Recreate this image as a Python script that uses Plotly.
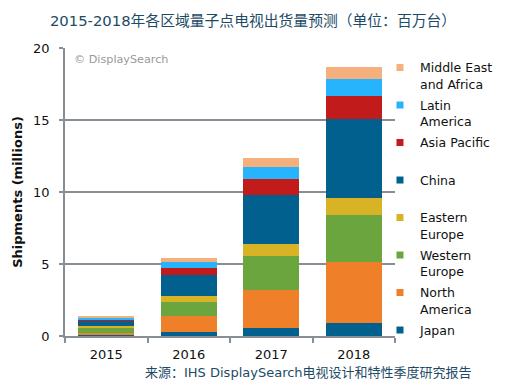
import plotly.graph_objects as go

years = ["2015", "2016", "2017", "2018"]
regions = ["Japan", "North America", "Western Europe", "Eastern Europe",
           "China", "Asia Pacific", "Latin America", "Middle East and Africa"]
legend_labels = ["Japan<br> ", "North<br>America", "Western<br>Europe", "Eastern<br>Europe",
                 "China<br> ", "Asia Pacific<br> ", "Latin<br>America", "Middle East<br>and Africa"]

japan = [0.09, 0.28, 0.56, 0.90]
north_america = [0.14, 1.13, 2.66, 4.24]
western_europe = [0.37, 0.95, 2.34, 3.26]
eastern_europe = [0.09, 0.42, 0.83, 1.18]
china = [0.37, 1.46, 3.40, 5.47]
asia_pacific = [0.12, 0.49, 1.11, 1.62]
latin_america = [0.12, 0.42, 0.84, 1.18]
mea = [0.09, 0.28, 0.64, 0.83]

series = [japan, north_america, western_europe, eastern_europe,
          china, asia_pacific, latin_america, mea]
colors = ["#02608f", "#f07f29", "#6aa63d", "#d8b325",
          "#02608f", "#c21b1b", "#28b3fd", "#f6b07d"]

y_ticks = [0, 5, 10, 15, 20]

FONT = "DejaVu Sans, Verdana, Noto Sans CJK SC"

fig = go.Figure()
for name, vals, col in zip(regions, series, colors):
    fig.add_trace(go.Bar(x=years, y=vals, name=name, marker_color=col,
                         marker_line_width=0, showlegend=False))
# legend entries, top to bottom (reverse of stacking order)
for name, lab, col in list(zip(regions, legend_labels, colors))[::-1]:
    fig.add_trace(go.Scatter(x=[None], y=[None], mode="markers", name=lab,
                             legendgroup=name,
                             marker=dict(symbol="square", size=7, color=col)))

fig.update_layout(
    width=497, height=378,
    barmode="stack", bargap=0.32,
    plot_bgcolor="white", paper_bgcolor="white",
    margin=dict(l=57, r=110, t=40, b=50, autoexpand=False),
    font=dict(family=FONT, size=13, color="#111111"),
    showlegend=True,
    legend=dict(x=0.9545, xanchor="left", y=0.983, yanchor="top",
                traceorder="grouped", tracegroupgap=2, maxheight=340,
                font=dict(size=12.5, color="#111111"), itemwidth=30,
                valign="top", bgcolor="rgba(0,0,0,0)"),
    xaxis=dict(showline=True, linecolor="#888e94", linewidth=1.5,
               ticks="outside", tickson="boundaries", ticklen=5,
               tickcolor="#888e94", tickwidth=1.5, ticklabelstandoff=6,
               tickfont=dict(size=13, color="#111111")),
    yaxis=dict(range=[0, 20], tickvals=y_ticks, showline=True,
               linecolor="#888e94", linewidth=1.5,
               ticks="outside", ticklen=4, tickcolor="#888e94", tickwidth=1.5,
               showgrid=True, gridcolor="#888e94", gridwidth=1.5,
               zeroline=False, ticklabelstandoff=7,
               tickfont=dict(size=13, color="#111111"),
               title=dict(text="<b>Shipments (millions)</b>",
                          font=dict(size=13, color="#111111"), standoff=8)),
    yaxis2=dict(range=[0, 20], tickvals=y_ticks, overlaying="y", side="right",
                showline=True, linecolor="#888e94", linewidth=1.5,
                ticks="inside", ticklen=4, tickcolor="#888e94", tickwidth=1.5,
                showticklabels=False, showgrid=False, zeroline=False),
    title=dict(text="2015-2018年各区域量子点电视出货量预测（单位：百万台）",
               x=0.493, xanchor="center", y=0.965, yanchor="middle",
               font=dict(size=14.8, color="#1d4b66", family=FONT)),
)

fig.add_annotation(text="来源：IHS DisplaySearch电视设计和特性季度研究报告",
                   xref="paper", yref="paper", x=0.236, xanchor="left",
                   y=-0.128, yanchor="middle", showarrow=False,
                   font=dict(size=13, color="#1d4b66", family=FONT))
fig.add_annotation(text="© DisplaySearch", xref="paper", yref="paper",
                   x=0.02, xanchor="left", y=0.96, yanchor="middle",
                   showarrow=False, font=dict(size=11.2, color="#9a9a9a", family=FONT))

fig.write_html("out.html")
